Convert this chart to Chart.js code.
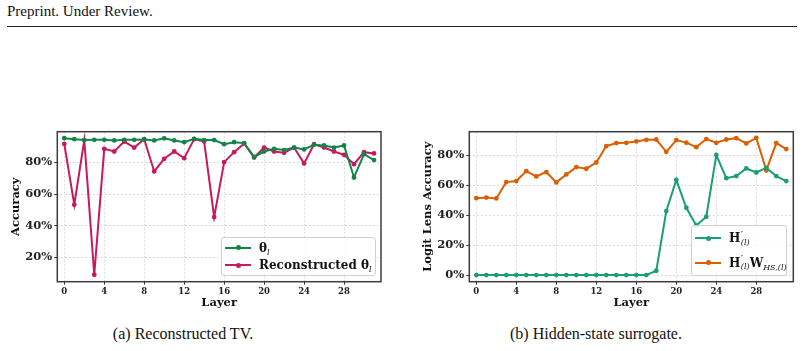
<!DOCTYPE html>
<html>
<head>
<meta charset="utf-8">
<script src="https://cdn.jsdelivr.net/npm/chart.js@4.4.0/dist/chart.umd.min.js"></script>
<style>
  html, body { margin: 0; padding: 0; background: #fff; }
  body { width: 804px; height: 351px; position: relative; overflow: hidden; font-family: "Liberation Serif", serif; color: #111; }
  #header { position: absolute; left: 7px; top: 3px; font-size: 15px; }
  #rule { position: absolute; left: 7px; top: 26px; width: 790px; height: 1px; background: #222; }
  canvas { position: absolute; }
  .cap { position: absolute; top: 325px; font-size: 16px; transform: translateX(-50%); white-space: nowrap; }
  .legend { position: absolute; border: 1px solid #d0d0d0; border-radius: 3px; background: rgba(255,255,255,0.85); box-sizing: border-box; }
  .row { position: absolute; left: 0; height: 0; }
  .sample { position: absolute; width: 26px; height: 2px; top: -1px; }
  .sample i { position: absolute; left: 10.5px; top: -1.5px; width: 5px; height: 5px; border-radius: 50%; background: inherit; }
  .txt { position: absolute; top: -9px; white-space: nowrap; font-family: "DejaVu Serif", serif; font-weight: bold; font-size: 12px; line-height: 18px; }
  .txt .it { font-style: italic; font-weight: normal; }
  .ss { display: inline-block; vertical-align: middle; font-size: 8px; position: relative; top: 0px; margin-left: 0.5px; }
  .ss .pr { display: block; font-size: 10px; line-height: 7px; font-weight: normal; }
  .ss .lo { display: block; line-height: 9px; }
  .sub { font-size: 8px; position: relative; top: 3px; }
</style>
</head>
<body>
<div id="header">Preprint. Under Review.</div>
<div id="rule"></div>

<canvas id="tvChart" width="395" height="194" style="left:0px;top:118px"></canvas>
<canvas id="hsChart" width="404" height="194" style="left:400px;top:118px"></canvas>

<div class="legend" style="left:221px;top:237px;width:155px;height:39px">
  <div class="row" style="top:9.5px"><div class="sample" id="lgA1" style="left:3px"><i></i></div>
    <div class="txt" style="left:37px">θ<span class="sub it">l</span></div></div>
  <div class="row" style="top:27px"><div class="sample" id="lgA2" style="left:3px"><i></i></div>
    <div class="txt" style="left:37px">Reconstructed θ<span class="sub it">l</span></div></div>
</div>

<div class="legend" style="left:691px;top:225px;width:96px;height:51px">
  <div class="row" style="top:12px"><div class="sample" id="lgB1" style="left:3px"><i></i></div>
    <div class="txt" style="left:37px">H<span class="ss"><span class="pr">′</span><span class="lo it">(l)</span></span></div></div>
  <div class="row" style="top:36.5px"><div class="sample" id="lgB2" style="left:3px"><i></i></div>
    <div class="txt" style="left:37px">H<span class="ss"><span class="pr">′</span><span class="lo it">(l)</span></span>W<span class="sub it">HS,(l)</span></div></div>
</div>

<div class="cap" style="left:183px">(a) Reconstructed TV.</div>
<div class="cap" style="left:596px">(b) Hidden-state surrogate.</div>

<script>
const layers = [0, 1, 2, 3, 4, 5, 6, 7, 8, 9, 10, 11, 12, 13, 14, 15, 16, 17, 18, 19, 20, 21, 22, 23, 24, 25, 26, 27, 28, 29, 30, 31];
const layerTicks = [0, 4, 8, 12, 16, 20, 24, 28];

// (a) reconstructed task vector
const thetaAcc = [95.3, 94.7, 94.1, 94.3, 94.3, 93.9, 94.3, 94.3, 94.5, 93.9, 95.2, 93.9, 92.8, 94.9, 94.1, 94.1,
                  91.5, 92.8, 92.2, 83.5, 86.9, 88.6, 87.8, 89.4, 88.2, 91.1, 90.7, 89.4, 90.7, 70.5, 85.2, 81.5];
const reconAcc = [91.7, 53.3, 94.1, 9.1, 88.6, 86.9, 93.2, 89.4, 94.7, 74.3, 82.3, 86.9, 82.7, 94.7, 93.2, 45.5,
                  80.2, 86.5, 92.0, 83.1, 89.4, 86.9, 86.1, 89.4, 79.4, 91.5, 89.4, 86.9, 84.8, 78.9, 86.5, 85.7];
const tvTicks = [20, 40, 60, 80];

// (b) hidden-state surrogate
const hAcc = [0, 0, 0, 0, 0, 0, 0, 0, 0, 0, 0, 0, 0, 0, 0, 0,
              0, 0, 2.9, 42.7, 63.5, 44.9, 33.1, 38.9, 80.0, 64.6, 66.0, 71.1, 68.4, 71.5, 66.0, 62.7];
const hwAcc = [51.3, 51.7, 51.1, 62.0, 62.7, 69.3, 65.8, 68.7, 61.8, 67.1, 72.0, 70.9, 75.1, 86.0, 88.0, 88.2,
               89.1, 90.2, 90.4, 82.2, 90.0, 88.3, 85.3, 90.7, 88.2, 90.4, 91.3, 87.8, 91.5, 69.8, 88.0, 84.0];
const hsTicks = [0, 20, 40, 60, 80];

const green = '#148548';
const pink = '#c51a5d';
const teal = '#1b9e77';
const orange = '#d95f02';

const axisFont = 'DejaVu Serif';

const framePlugin = {
  id: 'frame',
  afterDraw(chart) {
    const { ctx, chartArea: a } = chart;
    ctx.save();
    ctx.strokeStyle = '#3c3c3c';
    ctx.lineWidth = 1.5;
    ctx.strokeRect(a.left, a.top, a.right - a.left, a.bottom - a.top);
    ctx.restore();
  }
};

function series(label, data, color) {
  return {
    label: label,
    data: data,
    borderColor: color,
    backgroundColor: color,
    borderWidth: 2,
    pointRadius: 2.4,
    pointHoverRadius: 2.4,
    pointBorderWidth: 0,
    tension: 0
  };
}

function makeChart(id, datasets, cfg) {
  return new Chart(document.getElementById(id), {
    type: 'line',
    data: { labels: layers, datasets: datasets },
    options: {
      responsive: false,
      animation: false,
      events: [],
      layout: { padding: { top: cfg.padTop, right: cfg.padRight, left: 0, bottom: 0 } },
      plugins: { legend: { display: false }, tooltip: { enabled: false } },
      scales: {
        x: {
          type: 'linear',
          min: -0.7,
          max: 31.7,
          afterBuildTicks: s => { s.ticks = layerTicks.map(v => ({ value: v })); },
          afterFit: s => { s.height = cfg.xHeight; },
          ticks: { color: '#222', padding: 1.5, maxRotation: 0, font: { family: axisFont, size: 8.5, weight: 'bold' } },
          grid: { color: '#d2d2d2', lineWidth: 0.8, tickLength: 3, tickColor: '#333', tickWidth: 1 },
          border: { display: false, dash: [2, 2] },
          title: { display: true, text: 'Layer', color: '#111', padding: { top: 0, bottom: 2 },
                   font: { family: axisFont, size: 11.5, weight: 'bold' } }
        },
        y: {
          min: cfg.yMin,
          max: cfg.yMax,
          afterBuildTicks: s => { s.ticks = cfg.yTicks.map(v => ({ value: v })); },
          afterFit: s => { s.width = cfg.yWidth; },
          ticks: { color: '#222', padding: 2, callback: v => v + '%', font: { family: axisFont, size: 11.5, weight: 'bold' } },
          grid: { color: '#d2d2d2', lineWidth: 0.8, tickLength: 3, tickColor: '#333', tickWidth: 1 },
          border: { display: false, dash: [2, 2] },
          title: { display: true, text: cfg.yTitle, color: '#111', padding: { top: cfg.yTitlePad, bottom: 0 },
                   font: { family: axisFont, size: 11.5, weight: 'bold' } }
        }
      }
    },
    plugins: [framePlugin]
  });
}

makeChart('tvChart', [series('θl', thetaAcc, green), series('Reconstructed θl', reconAcc, pink)], {
  padTop: 13.7, padRight: 14, xHeight: 30.3, yWidth: 57.3,
  yMin: 4.7, yMax: 99.4, yTicks: tvTicks, yTitle: 'Accuracy', yTitlePad: 8.8
});

makeChart('hsChart', [series("H'(l)", hAcc, teal), series("H'(l) W HS,(l)", hwAcc, orange)], {
  padTop: 13.7, padRight: 10.7, xHeight: 30.3, yWidth: 69.3,
  yMin: -4.4, yMax: 95.6, yTicks: hsTicks, yTitle: 'Logit Lens Accuracy', yTitlePad: 21.4
});

document.getElementById('lgA1').style.background = green;
document.getElementById('lgA2').style.background = pink;
document.getElementById('lgB1').style.background = teal;
document.getElementById('lgB2').style.background = orange;
</script>
</body>
</html>
